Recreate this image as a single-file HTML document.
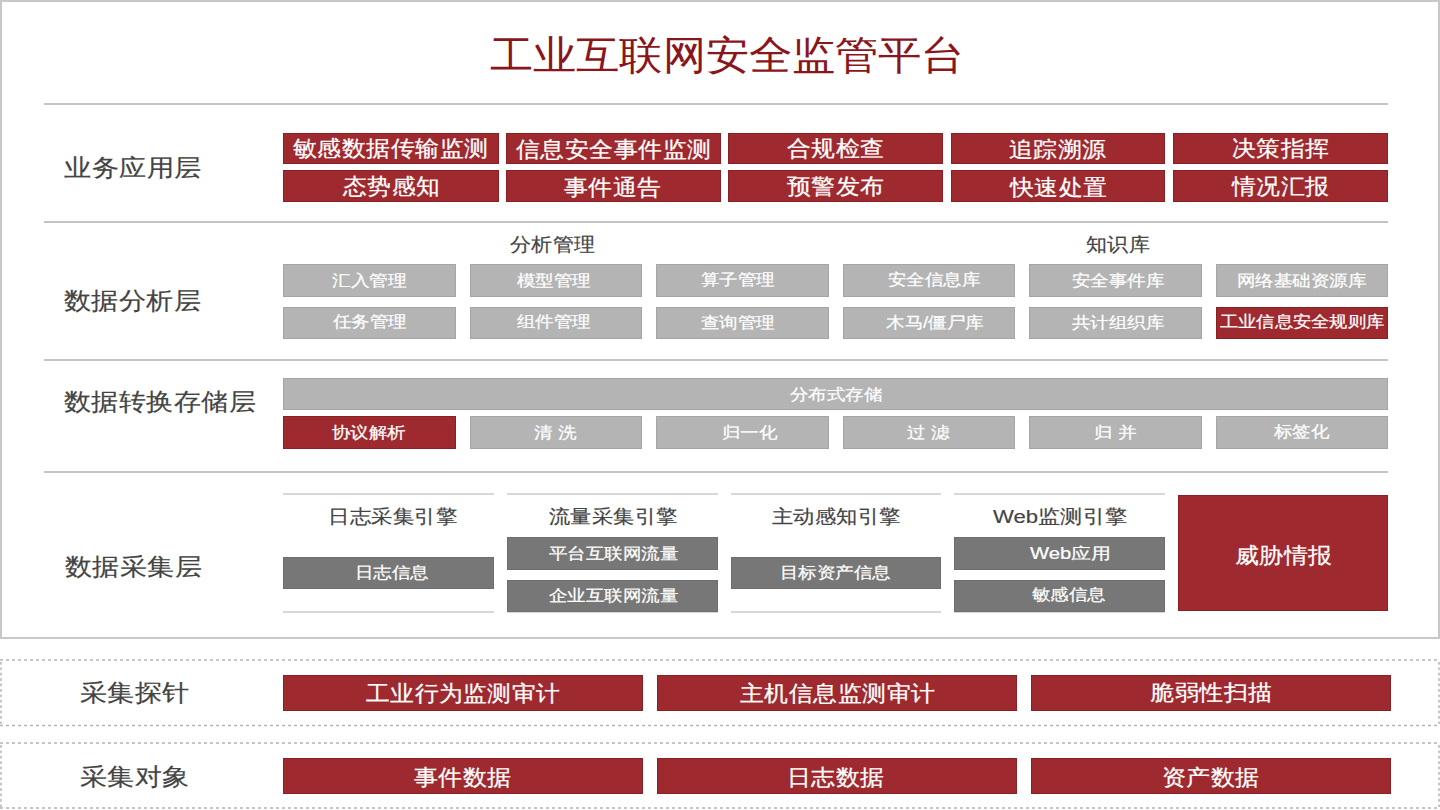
<!DOCTYPE html>
<html><head><meta charset="utf-8">
<style>
*{margin:0;padding:0;box-sizing:border-box}
html,body{width:1440px;height:810px;background:#fff;overflow:hidden;font-family:"Liberation Sans",sans-serif}
div{position:absolute}
.t{white-space:nowrap;line-height:1;transform-origin:0 0}
.w{-webkit-text-stroke:0.25px #fff}
.k{-webkit-text-stroke:0.2px #444444}
</style></head><body>
<div style="left:0;top:0;width:1440px;height:639px;border:2px solid #c8c8c8"></div>
<div style="left:44px;top:103px;width:1344px;height:2px;background:#c4c4c4"></div>
<div style="left:44px;top:221px;width:1344px;height:2px;background:#c4c4c4"></div>
<div style="left:44px;top:359px;width:1344px;height:2px;background:#c4c4c4"></div>
<div style="left:44px;top:471px;width:1344px;height:2px;background:#c4c4c4"></div>
<div style="left:283px;top:493.4px;width:211.3px;height:1.6px;background:#d8d8d8"></div>
<div style="left:283px;top:611.4px;width:211.3px;height:1.6px;background:#d8d8d8"></div>
<div style="left:507px;top:493.4px;width:210.8px;height:1.6px;background:#d8d8d8"></div>
<div style="left:507px;top:611.4px;width:210.8px;height:1.6px;background:#d8d8d8"></div>
<div style="left:730.6px;top:493.4px;width:210.7px;height:1.6px;background:#d8d8d8"></div>
<div style="left:730.6px;top:611.4px;width:210.7px;height:1.6px;background:#d8d8d8"></div>
<div style="left:954.2px;top:493.4px;width:210.8px;height:1.6px;background:#d8d8d8"></div>
<div style="left:954.2px;top:611.4px;width:210.8px;height:1.6px;background:#d8d8d8"></div>
<div style="left:283px;top:132.9px;width:215.5px;height:30.7px;background:#9e2a30;box-shadow:inset 0 0 0 1px rgba(70,0,5,0.22)"></div>
<div style="left:283px;top:170.4px;width:215.5px;height:31.4px;background:#9e2a30;box-shadow:inset 0 0 0 1px rgba(70,0,5,0.22)"></div>
<div style="left:505.7px;top:132.9px;width:215px;height:30.7px;background:#9e2a30;box-shadow:inset 0 0 0 1px rgba(70,0,5,0.22)"></div>
<div style="left:505.7px;top:170.4px;width:215px;height:31.4px;background:#9e2a30;box-shadow:inset 0 0 0 1px rgba(70,0,5,0.22)"></div>
<div style="left:728.1px;top:132.9px;width:215px;height:30.7px;background:#9e2a30;box-shadow:inset 0 0 0 1px rgba(70,0,5,0.22)"></div>
<div style="left:728.1px;top:170.4px;width:215px;height:31.4px;background:#9e2a30;box-shadow:inset 0 0 0 1px rgba(70,0,5,0.22)"></div>
<div style="left:950.6px;top:132.9px;width:214.8px;height:30.7px;background:#9e2a30;box-shadow:inset 0 0 0 1px rgba(70,0,5,0.22)"></div>
<div style="left:950.6px;top:170.4px;width:214.8px;height:31.4px;background:#9e2a30;box-shadow:inset 0 0 0 1px rgba(70,0,5,0.22)"></div>
<div style="left:1173px;top:132.9px;width:215px;height:30.7px;background:#9e2a30;box-shadow:inset 0 0 0 1px rgba(70,0,5,0.22)"></div>
<div style="left:1173px;top:170.4px;width:215px;height:31.4px;background:#9e2a30;box-shadow:inset 0 0 0 1px rgba(70,0,5,0.22)"></div>
<div style="left:283px;top:264.4px;width:172.6px;height:32.6px;background:#b4b4b4;box-shadow:inset 0 0 0 1px rgba(0,0,0,0.08)"></div>
<div style="left:283px;top:306.9px;width:172.6px;height:32.4px;background:#b4b4b4;box-shadow:inset 0 0 0 1px rgba(0,0,0,0.08)"></div>
<div style="left:469.5px;top:264.4px;width:172.6px;height:32.6px;background:#b4b4b4;box-shadow:inset 0 0 0 1px rgba(0,0,0,0.08)"></div>
<div style="left:469.5px;top:306.9px;width:172.6px;height:32.4px;background:#b4b4b4;box-shadow:inset 0 0 0 1px rgba(0,0,0,0.08)"></div>
<div style="left:656px;top:264.4px;width:172.6px;height:32.6px;background:#b4b4b4;box-shadow:inset 0 0 0 1px rgba(0,0,0,0.08)"></div>
<div style="left:656px;top:306.9px;width:172.6px;height:32.4px;background:#b4b4b4;box-shadow:inset 0 0 0 1px rgba(0,0,0,0.08)"></div>
<div style="left:842.5px;top:264.4px;width:172.6px;height:32.6px;background:#b4b4b4;box-shadow:inset 0 0 0 1px rgba(0,0,0,0.08)"></div>
<div style="left:842.5px;top:306.9px;width:172.6px;height:32.4px;background:#b4b4b4;box-shadow:inset 0 0 0 1px rgba(0,0,0,0.08)"></div>
<div style="left:1029px;top:264.4px;width:172.6px;height:32.6px;background:#b4b4b4;box-shadow:inset 0 0 0 1px rgba(0,0,0,0.08)"></div>
<div style="left:1029px;top:306.9px;width:172.6px;height:32.4px;background:#b4b4b4;box-shadow:inset 0 0 0 1px rgba(0,0,0,0.08)"></div>
<div style="left:1215.5px;top:264.4px;width:172.6px;height:32.6px;background:#b4b4b4;box-shadow:inset 0 0 0 1px rgba(0,0,0,0.08)"></div>
<div style="left:1215.5px;top:306.9px;width:172.6px;height:32.4px;background:#9e2a30;box-shadow:inset 0 0 0 1px rgba(70,0,5,0.22)"></div>
<div style="left:283px;top:377.6px;width:1105px;height:32px;background:#b4b4b4;box-shadow:inset 0 0 0 1px rgba(0,0,0,0.08)"></div>
<div style="left:283px;top:416.4px;width:172.6px;height:32.2px;background:#9e2a30;box-shadow:inset 0 0 0 1px rgba(70,0,5,0.22)"></div>
<div style="left:469.5px;top:416.4px;width:172.6px;height:32.2px;background:#b4b4b4;box-shadow:inset 0 0 0 1px rgba(0,0,0,0.08)"></div>
<div style="left:656px;top:416.4px;width:172.6px;height:32.2px;background:#b4b4b4;box-shadow:inset 0 0 0 1px rgba(0,0,0,0.08)"></div>
<div style="left:842.5px;top:416.4px;width:172.6px;height:32.2px;background:#b4b4b4;box-shadow:inset 0 0 0 1px rgba(0,0,0,0.08)"></div>
<div style="left:1029px;top:416.4px;width:172.6px;height:32.2px;background:#b4b4b4;box-shadow:inset 0 0 0 1px rgba(0,0,0,0.08)"></div>
<div style="left:1215.5px;top:416.4px;width:172.6px;height:32.2px;background:#b4b4b4;box-shadow:inset 0 0 0 1px rgba(0,0,0,0.08)"></div>
<div style="left:283px;top:556.5px;width:211.3px;height:32.5px;background:#777777;box-shadow:inset 0 0 0 1px rgba(0,0,0,0.08)"></div>
<div style="left:507px;top:537px;width:210.8px;height:32.5px;background:#777777;box-shadow:inset 0 0 0 1px rgba(0,0,0,0.08)"></div>
<div style="left:507px;top:579.5px;width:210.8px;height:32.4px;background:#777777;box-shadow:inset 0 0 0 1px rgba(0,0,0,0.08)"></div>
<div style="left:730.6px;top:556.5px;width:210.7px;height:32.5px;background:#777777;box-shadow:inset 0 0 0 1px rgba(0,0,0,0.08)"></div>
<div style="left:954.2px;top:537px;width:210.8px;height:32.5px;background:#777777;box-shadow:inset 0 0 0 1px rgba(0,0,0,0.08)"></div>
<div style="left:954.2px;top:579.5px;width:210.8px;height:32.4px;background:#777777;box-shadow:inset 0 0 0 1px rgba(0,0,0,0.08)"></div>
<div style="left:1178px;top:494.8px;width:210.4px;height:116.6px;background:#9e2a30;box-shadow:inset 0 0 0 1px rgba(70,0,5,0.22)"></div>
<div style="left:283.3px;top:674.7px;width:359.7px;height:36.1px;background:#9e2a30;box-shadow:inset 0 0 0 1px rgba(70,0,5,0.22)"></div>
<div style="left:283.3px;top:757.5px;width:359.7px;height:36.7px;background:#9e2a30;box-shadow:inset 0 0 0 1px rgba(70,0,5,0.22)"></div>
<div style="left:657.2px;top:674.7px;width:359.8px;height:36.1px;background:#9e2a30;box-shadow:inset 0 0 0 1px rgba(70,0,5,0.22)"></div>
<div style="left:657.2px;top:757.5px;width:359.8px;height:36.7px;background:#9e2a30;box-shadow:inset 0 0 0 1px rgba(70,0,5,0.22)"></div>
<div style="left:1031.2px;top:674.7px;width:360px;height:36.1px;background:#9e2a30;box-shadow:inset 0 0 0 1px rgba(70,0,5,0.22)"></div>
<div style="left:1031.2px;top:757.5px;width:360px;height:36.7px;background:#9e2a30;box-shadow:inset 0 0 0 1px rgba(70,0,5,0.22)"></div>
<svg style="position:absolute;left:0;top:0" width="1440" height="810">
<g stroke="#b4b4b4" stroke-width="1.5" fill="none">
<line x1="0" y1="660" x2="1440" y2="660" stroke-dasharray="3 3"/>
<line x1="0" y1="725.5" x2="1440" y2="725.5" stroke-dasharray="3 3"/>
<line x1="0" y1="743" x2="1440" y2="743" stroke-dasharray="3 3"/>
<line x1="0" y1="808" x2="1440" y2="808" stroke-dasharray="3 3"/>
<line x1="1" y1="662" x2="1" y2="724" stroke-dasharray="2.7 2.7"/>
<line x1="1439" y1="662" x2="1439" y2="724" stroke-dasharray="2.7 2.7"/>
<line x1="1" y1="745" x2="1" y2="807" stroke-dasharray="2.7 2.7"/>
<line x1="1439" y1="745" x2="1439" y2="807" stroke-dasharray="2.7 2.7"/>
</g>
</svg>
<div class="t w" style="left:293.27px;top:138.35px;font-size:24.5px;color:#fff;transform:scale(0.9797,0.9000)">敏感数据传输监测</div>
<div class="t w" style="left:343.10px;top:176.05px;font-size:24.5px;color:#fff;transform:scale(0.9724,0.9000)">态势感知</div>
<div class="t w" style="left:515.89px;top:138.80px;font-size:24.5px;color:#fff;transform:scale(0.9780,0.9000)">信息安全事件监测</div>
<div class="t w" style="left:564.30px;top:176.50px;font-size:24.5px;color:#fff;transform:scale(0.9780,0.9000)">事件通告</div>
<div class="t w" style="left:787.19px;top:138.35px;font-size:24.5px;color:#fff;transform:scale(0.9780,0.9000)">合规检查</div>
<div class="t w" style="left:787.19px;top:176.05px;font-size:24.5px;color:#fff;transform:scale(0.9780,0.9000)">预警发布</div>
<div class="t w" style="left:1009.10px;top:138.80px;font-size:24.5px;color:#fff;transform:scale(0.9780,0.9000)">追踪溯源</div>
<div class="t w" style="left:1009.59px;top:176.50px;font-size:24.5px;color:#fff;transform:scale(0.9780,0.9000)">快速处置</div>
<div class="t w" style="left:1231.60px;top:138.35px;font-size:24.5px;color:#fff;transform:scale(0.9780,0.9000)">决策指挥</div>
<div class="t w" style="left:1232.09px;top:176.05px;font-size:24.5px;color:#fff;transform:scale(0.9780,0.9000)">情况汇报</div>
<div class="t w" style="left:332.01px;top:272.58px;font-size:18.4px;color:#fff;transform:scale(1.0357,0.8850)">汇入管理</div>
<div class="t w" style="left:332.91px;top:314.24px;font-size:18.4px;color:#fff;transform:scale(1.0250,0.8850)">任务管理</div>
<div class="t w" style="left:516.71px;top:272.58px;font-size:18.4px;color:#fff;transform:scale(1.0250,0.8850)">模型管理</div>
<div class="t w" style="left:516.71px;top:314.24px;font-size:18.4px;color:#fff;transform:scale(1.0250,0.8850)">组件管理</div>
<div class="t w" style="left:700.70px;top:272.14px;font-size:18.4px;color:#fff;transform:scale(1.0250,0.8850)">算子管理</div>
<div class="t w" style="left:700.70px;top:314.68px;font-size:18.4px;color:#fff;transform:scale(1.0250,0.8850)">查询管理</div>
<div class="t w" style="left:887.82px;top:272.14px;font-size:18.4px;color:#fff;transform:scale(1.0261,0.8850)">安全信息库</div>
<div class="t w" style="left:886.32px;top:314.68px;font-size:18.4px;color:#fff;transform:scale(1.0290,0.8850)">木马/僵尸库</div>
<div class="t w" style="left:1072.17px;top:272.58px;font-size:18.4px;color:#fff;transform:scale(1.0250,0.8850)">安全事件库</div>
<div class="t w" style="left:1072.17px;top:314.68px;font-size:18.4px;color:#fff;transform:scale(1.0250,0.8850)">共计组织库</div>
<div class="t w" style="left:1236.75px;top:272.58px;font-size:18.4px;color:#fff;transform:scale(1.0244,0.8850)">网络基础资源库</div>
<div class="t w" style="left:1220.30px;top:314.24px;font-size:18.4px;color:#fff;transform:scale(1.0124,0.8850)">工业信息安全规则库</div>
<div class="t k" style="left:510.25px;top:235.84px;font-size:21.5px;color:#444444;transform:scale(0.9738,0.8800)">分析管理</div>
<div class="t k" style="left:1086.26px;top:235.84px;font-size:21.5px;color:#444444;transform:scale(0.9740,0.8800)">知识库</div>
<div class="t w" style="left:789.58px;top:387.28px;font-size:18.4px;color:#fff;transform:scale(1.0227,0.8850)">分布式存储</div>
<div class="t w" style="left:331.85px;top:424.68px;font-size:18.4px;color:#fff;transform:scale(1.0211,0.8850)">协议解析</div>
<div class="t w" style="left:534.27px;top:424.68px;font-size:18.4px;color:#fff;transform:scale(1.0250,0.8850)">清 洗</div>
<div class="t w" style="left:721.91px;top:424.68px;font-size:18.4px;color:#fff;transform:scale(1.0250,0.8850)">归一化</div>
<div class="t w" style="left:907.27px;top:424.68px;font-size:18.4px;color:#fff;transform:scale(1.0250,0.8850)">过 滤</div>
<div class="t w" style="left:1094.29px;top:424.68px;font-size:18.4px;color:#fff;transform:scale(1.0250,0.8850)">归 并</div>
<div class="t w" style="left:1274.12px;top:424.24px;font-size:18.4px;color:#fff;transform:scale(1.0250,0.8850)">标签化</div>
<div class="t k" style="left:328.12px;top:507.37px;font-size:21.8px;color:#444444;transform:scale(0.9781,0.8700)">日志采集引擎</div>
<div class="t w" style="left:355.32px;top:565.03px;font-size:18.4px;color:#fff;transform:scale(1.0250,0.8850)">日志信息</div>
<div class="t k" style="left:549.18px;top:507.37px;font-size:21.8px;color:#444444;transform:scale(0.9731,0.8700)">流量采集引擎</div>
<div class="t w" style="left:548.68px;top:546.28px;font-size:18.4px;color:#fff;transform:scale(1.0242,0.8850)">平台互联网流量</div>
<div class="t w" style="left:548.62px;top:587.68px;font-size:18.4px;color:#fff;transform:scale(1.0250,0.8850)">企业互联网流量</div>
<div class="t k" style="left:772.09px;top:507.37px;font-size:21.8px;color:#444444;transform:scale(0.9750,0.8700)">主动感知引擎</div>
<div class="t w" style="left:779.93px;top:565.03px;font-size:18.4px;color:#fff;transform:scale(1.0250,0.8850)">目标资产信息</div>
<div class="t k" style="left:993.20px;top:507.37px;font-size:21.8px;color:#444444;transform:scale(1.0137,0.8700)">Web监测引擎</div>
<div class="t w" style="left:1029.50px;top:546.28px;font-size:18.4px;color:#fff;transform:scale(1.0986,0.8850)">Web应用</div>
<div class="t w" style="left:1031.63px;top:586.79px;font-size:18.4px;color:#fff;transform:scale(1.0243,0.8850)">敏感信息</div>
<div class="t w" style="left:1235.32px;top:544.75px;font-size:24.5px;color:#fff;transform:scale(0.9776,0.9000)">威胁情报</div>
<div class="t k" style="left:64.31px;top:155.56px;font-size:27.6px;color:#444444;transform:scale(0.9855,0.8700)">业务应用层</div>
<div class="t k" style="left:64.42px;top:288.61px;font-size:27.6px;color:#444444;transform:scale(0.9800,0.8700)">数据分析层</div>
<div class="t k" style="left:64.42px;top:390.00px;font-size:27.6px;color:#444444;transform:scale(0.9799,0.8700)">数据转换存储层</div>
<div class="t k" style="left:64.52px;top:554.96px;font-size:27.6px;color:#444444;transform:scale(0.9783,0.8700)">数据采集层</div>
<div class="t k" style="left:79.92px;top:681.25px;font-size:27.6px;color:#444444;transform:scale(0.9809,0.8700)">采集探针</div>
<div class="t k" style="left:79.92px;top:765.00px;font-size:27.6px;color:#444444;transform:scale(0.9800,0.8700)">采集对象</div>
<div class="t w" style="left:366.45px;top:683.20px;font-size:24.5px;color:#fff;transform:scale(0.9719,0.9000)">工业行为监测审计</div>
<div class="t w" style="left:414.17px;top:766.65px;font-size:24.5px;color:#fff;transform:scale(0.9796,0.9000)">事件数据</div>
<div class="t w" style="left:739.79px;top:683.20px;font-size:24.5px;color:#fff;transform:scale(0.9780,0.9000)">主机信息监测审计</div>
<div class="t w" style="left:786.73px;top:767.10px;font-size:24.5px;color:#fff;transform:scale(0.9780,0.9000)">日志数据</div>
<div class="t w" style="left:1149.72px;top:682.30px;font-size:24.5px;color:#fff;transform:scale(0.9837,0.9000)">脆弱性扫描</div>
<div class="t w" style="left:1161.74px;top:767.10px;font-size:24.5px;color:#fff;transform:scale(0.9794,0.9000)">资产数据</div>
<div class="t" style="left:489.80px;top:35.58px;font-size:43.2px;color:#8a161c;transform:scale(1.0034,0.9250)">工业互联网安全监管平台</div>
</body></html>
